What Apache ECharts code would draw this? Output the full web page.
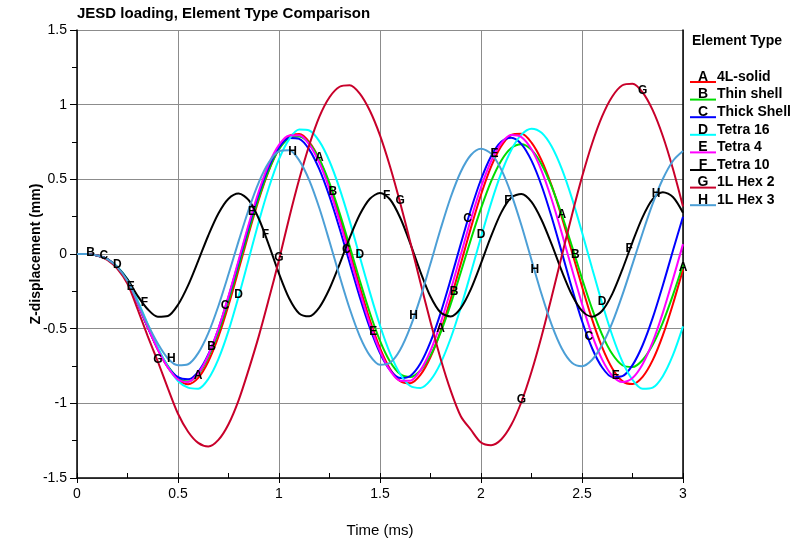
<!DOCTYPE html>
<html>
<head>
<meta charset="utf-8">
<title>JESD loading, Element Type Comparison</title>
<script src="https://cdn.jsdelivr.net/npm/echarts/dist/echarts.min.js"></script>
<style>
  html, body { margin: 0; padding: 0; background: #fff; }
  #chart { width: 796px; height: 540px; }
</style>
</head>
<body>
<div id="chart"></div>
<script>
// time axis (ms) and Z-displacement (mm)
const timeMs = [0, 0.05, 0.1, 0.15, 0.2, 0.25, 0.3, 0.35, 0.4, 0.45, 0.5, 0.55, 0.6, 0.65, 0.7, 0.75, 0.8, 0.85, 0.9, 0.95,
  1, 1.05, 1.1, 1.15, 1.2, 1.25, 1.3, 1.35, 1.4, 1.45, 1.5, 1.55, 1.6, 1.65, 1.7, 1.75, 1.8, 1.85, 1.9, 1.95,
  2, 2.05, 2.1, 2.15, 2.2, 2.25, 2.3, 2.35, 2.4, 2.45, 2.5, 2.55, 2.6, 2.65, 2.7, 2.75, 2.8, 2.85, 2.9, 2.95, 3];

const solid4L = [0, 0, -0.01, -0.035, -0.09, -0.18, -0.33, -0.49, -0.64, -0.76, -0.84, -0.872, -0.83, -0.72, -0.554, -0.343, -0.106, 0.137, 0.365, 0.56,
  0.705, 0.789, 0.803, 0.749, 0.632, 0.461, 0.25, 0.017, -0.221, -0.443, -0.631, -0.771, -0.851, -0.865, -0.81, -0.69, -0.516, -0.302, -0.065, 0.175,
  0.397, 0.585, 0.722, 0.797, 0.805, 0.746, 0.627, 0.456, 0.247, 0.016, -0.218, -0.438, -0.626, -0.767, -0.851, -0.871, -0.823, -0.711, -0.545, -0.336, -0.103];
const thinShell = [0, 0, -0.01, -0.035, -0.09, -0.18, -0.33, -0.49, -0.635, -0.75, -0.83, -0.854, -0.806, -0.692, -0.524, -0.314, -0.081, 0.156, 0.377, 0.564,
  0.701, 0.776, 0.787, 0.741, 0.634, 0.474, 0.274, 0.051, -0.179, -0.395, -0.581, -0.721, -0.804, -0.824, -0.78, -0.679, -0.526, -0.336, -0.122, 0.098,
  0.306, 0.487, 0.625, 0.71, 0.735, 0.697, 0.6, 0.451, 0.263, 0.053, -0.164, -0.367, -0.541, -0.67, -0.745, -0.757, -0.71, -0.608, -0.459, -0.275, -0.072];
const thickShell = [0, 0, -0.01, -0.035, -0.09, -0.18, -0.33, -0.49, -0.635, -0.755, -0.825, -0.839, -0.789, -0.673, -0.502, -0.288, -0.053, 0.185, 0.405, 0.586,
  0.714, 0.777, 0.771, 0.699, 0.566, 0.385, 0.171, -0.06, -0.289, -0.495, -0.663, -0.778, -0.831, -0.817, -0.734, -0.589, -0.396, -0.17, 0.068, 0.298,
  0.499, 0.655, 0.751, 0.779, 0.736, 0.625, 0.457, 0.246, 0.011, -0.228, -0.449, -0.631, -0.76, -0.824, -0.818, -0.744, -0.611, -0.428, -0.211, 0.022, 0.25];
const tetra16 = [0, 0, -0.01, -0.035, -0.085, -0.17, -0.31, -0.47, -0.625, -0.755, -0.85, -0.895, -0.902, -0.837, -0.704, -0.515, -0.285, -0.035, 0.216, 0.445,
  0.635, 0.768, 0.833, 0.827, 0.754, 0.621, 0.438, 0.22, -0.018, -0.257, -0.479, -0.666, -0.805, -0.884, -0.897, -0.845, -0.731, -0.564, -0.358, -0.126,
  0.113, 0.341, 0.541, 0.697, 0.799, 0.839, 0.812, 0.72, 0.57, 0.374, 0.146, -0.095, -0.332, -0.546, -0.721, -0.843, -0.903, -0.895, -0.818, -0.678, -0.485];
const tetra4 = [0, 0, -0.01, -0.035, -0.09, -0.18, -0.33, -0.49, -0.64, -0.76, -0.84, -0.857, -0.8, -0.678, -0.5, -0.282, -0.042, 0.199, 0.42, 0.603,
  0.731, 0.794, 0.795, 0.733, 0.61, 0.433, 0.218, -0.016, -0.253, -0.47, -0.651, -0.781, -0.848, -0.848, -0.779, -0.648, -0.463, -0.243, -0.004, 0.232,
  0.447, 0.621, 0.741, 0.797, 0.783, 0.701, 0.557, 0.365, 0.139, -0.101, -0.334, -0.543, -0.707, -0.815, -0.857, -0.83, -0.738, -0.589, -0.394, -0.17, 0.066];
const tetra10 = [0, 0, -0.01, -0.035, -0.09, -0.17, -0.28, -0.37, -0.42, -0.415, -0.34, -0.21, -0.046, 0.124, 0.271, 0.37, 0.405, 0.36, 0.236, 0.06,
  -0.131, -0.296, -0.398, -0.417, -0.357, -0.233, -0.068, 0.108, 0.264, 0.37, 0.408, 0.365, 0.243, 0.07, -0.119, -0.285, -0.392, -0.418, -0.362, -0.235,
  -0.063, 0.119, 0.277, 0.378, 0.402, 0.349, 0.228, 0.064, -0.115, -0.273, -0.381, -0.42, -0.38, -0.267, -0.103, 0.08, 0.247, 0.367, 0.414, 0.382, 0.276];
const hex2 = [0, 0, -0.01, -0.04, -0.1, -0.2, -0.37, -0.55, -0.72, -0.9, -1.07, -1.19, -1.265, -1.289, -1.245, -1.14, -0.98, -0.774, -0.55, -0.3,
  -0.04, 0.24, 0.5, 0.73, 0.92, 1.05, 1.12, 1.13, 1.074, 0.959, 0.794, 0.584, 0.342, 0.079, -0.191, -0.456, -0.701, -0.915, -1.086, -1.177,
  -1.262, -1.28, -1.242, -1.144, -0.991, -0.789, -0.551, -0.287, -0.012, 0.26, 0.515, 0.74, 0.923, 1.055, 1.13, 1.14, 1.082, 0.963, 0.79, 0.571, 0.318];
const hex3 = [0, 0, -0.01, -0.035, -0.09, -0.18, -0.32, -0.47, -0.6, -0.7, -0.745, -0.738, -0.664, -0.53, -0.348, -0.136, 0.086, 0.298, 0.48, 0.614,
  0.688, 0.694, 0.627, 0.493, 0.306, 0.084, -0.148, -0.367, -0.551, -0.68, -0.741, -0.728, -0.641, -0.49, -0.292, -0.064, 0.167, 0.38, 0.551, 0.663,
  0.705, 0.672, 0.567, 0.401, 0.192, -0.04, -0.27, -0.475, -0.633, -0.728, -0.751, -0.708, -0.608, -0.46, -0.274, -0.068, 0.141, 0.337, 0.502, 0.623, 0.689];

const elementNames = ['4L-solid', 'Thin shell', 'Thick Shell', 'Tetra 16', 'Tetra 4', 'Tetra 10', '1L Hex 2', '1L Hex 3'];
const curveLetters = ['A', 'B', 'C', 'D', 'E', 'F', 'G', 'H'];
const curveValues = [solid4L, thinShell, thickShell, tetra16, tetra4, tetra10, hex2, hex3];
const curveColors = ['#ff0000', '#00dd00', '#0000ff', '#00ffff', '#ff00ff', '#000000', '#c8002a', '#4c9fd6'];

// curve letters sit every 0.6 ms, each curve starting a little later
const letterStart = [0, 0.0667, 0.1333, 0.2, 0.2667, 0.3333, 0.4, 0.4667];
const letterStep = 0.6;

const xTicks = [0, 0.5, 1, 1.5, 2, 2.5, 3];
const yTicks = [-1.5, -1, -0.5, 0, 0.5, 1, 1.5];

const sans = '"Liberation Sans", Arial, sans-serif';

function valueAt(ys, t) {
  for (let i = 1; i < timeMs.length; i++) {
    if (t <= timeMs[i] + 1e-9) {
      const f = (t - timeMs[i - 1]) / (timeMs[i] - timeMs[i - 1]);
      return ys[i - 1] + f * (ys[i] - ys[i - 1]);
    }
  }
  return ys[ys.length - 1];
}

function letterTimes(k) {
  const out = [];
  for (let t = letterStart[k]; t <= xTicks[xTicks.length - 1] + 1e-6; t += letterStep) {
    if (t > 0.01) out.push(Math.min(t, 3));
  }
  return out;
}

const chart = echarts.init(document.getElementById('chart'), null, { renderer: 'canvas' });

const series = curveValues.map((ys, k) => ({
  type: 'line',
  name: elementNames[k],
  xAxisIndex: 0,
  yAxisIndex: 0,
  data: timeMs.map((t, i) => [t, ys[i]]),
  symbol: 'none',
  showSymbol: false,
  smooth: 0.3,
  animation: false,
  lineStyle: { width: 2, color: curveColors[k] },
  itemStyle: { color: curveColors[k] },
  markPoint: {
    silent: true,
    animation: false,
    symbol: 'circle',
    symbolSize: 1,
    itemStyle: { color: 'rgba(0,0,0,0)' },
    label: {
      show: true,
      position: 'inside',
      offset: [0, -2],
      formatter: curveLetters[k],
      color: '#000',
      fontSize: 12,
      fontWeight: 'bold',
      fontFamily: sans
    },
    data: letterTimes(k).map(t => ({ coord: [t, valueAt(ys, t)] }))
  }
}));

// legend drawn by hand: coloured stroke under the letter, then the element name
const legendItems = [];
elementNames.forEach((name, i) => {
  const cy = 77 + i * 17.6;
  legendItems.push(
    { type: 'line', silent: true, shape: { x1: 690, y1: cy + 5, x2: 716, y2: cy + 5 },
      style: { stroke: curveColors[i], lineWidth: 2 } },
    { type: 'text', silent: true, x: 703, y: cy,
      style: { text: curveLetters[i], align: 'center', verticalAlign: 'middle', fill: '#000',
        font: 'bold 14px ' + sans } },
    { type: 'text', silent: true, x: 717, y: cy,
      style: { text: name, align: 'left', verticalAlign: 'middle', fill: '#000',
        font: 'bold 14px ' + sans } }
  );
});

const option = {
  backgroundColor: '#fff',
  animation: false,
  title: [
    { text: 'JESD loading, Element Type Comparison', left: 77, top: 6, padding: 0,
      textStyle: { fontSize: 15, fontWeight: 'bold', color: '#000', fontFamily: sans } },
    { text: 'Element Type', left: 692, top: 34, padding: 0,
      textStyle: { fontSize: 14, fontWeight: 'bold', color: '#000', fontFamily: sans } }
  ],
  grid: { left: 77, right: 113, top: 30, bottom: 62, outerBoundsMode: 'none' },
  xAxis: [
    {
      type: 'value', min: xTicks[0], max: xTicks[xTicks.length - 1], interval: 0.5,
      name: 'Time (ms)', nameLocation: 'middle', nameGap: 45, nameMoveOverlap: false,
      nameTextStyle: { fontSize: 15, color: '#000', fontFamily: sans },
      axisLine: { show: true, onZero: false, lineStyle: { color: '#000', width: 1.5 } },
      axisTick: { show: true, inside: false, length: 5, lineStyle: { color: '#000' } },
      axisLabel: { show: true, margin: 9, fontSize: 14, color: '#000', fontFamily: sans,
        showMinLabel: true, showMaxLabel: true, hideOverlap: false },
      splitLine: { show: true, lineStyle: { color: '#8c8c8c', width: 1 } }
    },
    {
      // minor ticks every 0.25 ms pointing into the plot
      type: 'value', min: 0, max: 3, interval: 0.25, position: 'bottom',
      axisLine: { show: false, onZero: false },
      axisTick: { show: true, inside: true, length: 5, lineStyle: { color: '#000' } },
      axisLabel: { show: false },
      splitLine: { show: false }
    }
  ],
  yAxis: [
    {
      type: 'value', min: yTicks[0], max: yTicks[yTicks.length - 1], interval: 0.5,
      name: 'Z-displacement (mm)', nameLocation: 'middle', nameGap: 34, nameRotate: 90, nameMoveOverlap: false,
      nameTextStyle: { fontSize: 14, fontWeight: 'bold', color: '#000', fontFamily: sans },
      axisLine: { show: true, onZero: false, lineStyle: { color: '#000', width: 1.5 } },
      axisTick: { show: true, inside: false, length: 7, lineStyle: { color: '#000' } },
      minorTick: { show: true, splitNumber: 2, length: 5, lineStyle: { color: '#000' } },
      axisLabel: { show: true, margin: 10, fontSize: 14, color: '#000', fontFamily: sans,
        showMinLabel: true, showMaxLabel: true, hideOverlap: false },
      splitLine: { show: true, lineStyle: { color: '#8c8c8c', width: 1 } }
    },
    {
      type: 'value', min: -1.5, max: 1.5, interval: 0.5, position: 'right',
      axisLine: { show: true, onZero: false, lineStyle: { color: '#000', width: 1.5 } },
      axisTick: { show: false }, axisLabel: { show: false }, splitLine: { show: false }
    }
  ],
  series: series,
  graphic: legendItems
};

chart.setOption(option);
</script>
</body>
</html>
